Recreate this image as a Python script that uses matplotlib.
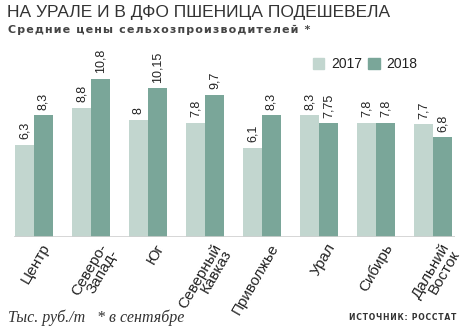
import numpy as np
import matplotlib
matplotlib.use('Agg')
import matplotlib.pyplot as plt
from matplotlib import font_manager

# Pick a narrow font if one is installed
names = {f.name for f in font_manager.fontManager.ttflist}
narrow = 'Liberation Sans Narrow' if 'Liberation Sans Narrow' in names else 'Liberation Sans'

# Data
regions = ['Центр', 'Северо-\nЗапад-', 'Юг', 'Северный\nКавказ', 'Приволжье',
           'Урал', 'Сибирь', 'Дальний\nВосток']
prices_2017 = [6.3, 8.8, 8.0, 7.8, 6.1, 8.3, 7.8, 7.7]
prices_2018 = [8.3, 10.8, 10.15, 9.7, 8.3, 7.75, 7.8, 6.8]
labels_2017 = ['6,3', '8,8', '8', '7,8', '6,1', '8,3', '7,8', '7,7']
labels_2018 = ['8,3', '10,8', '10,15', '9,7', '8,3', '7,75', '7,8', '6,8']
years = ['2017', '2018']

c17 = '#c2d6cf'
c18 = '#7aa699'

W, H = 467, 330
fig = plt.figure(figsize=(W / 100, H / 100), dpi=100)
ax = fig.add_axes([14 / W, 93 / H, 441 / W, 176 / H])

x = np.arange(len(regions))
bw = 0.333
ax.bar(x - bw / 2, prices_2017, width=bw, color=c17, linewidth=0)
ax.bar(x + bw / 2, prices_2018, width=bw, color=c18, linewidth=0)

ax.set_xlim(-0.351, 7.386)
ax.set_ylim(0, 12)
ax.axhline(0, color='#cfcfcf', linewidth=1.2)
for s in ax.spines.values():
    s.set_visible(False)
ax.set_yticks([])
ax.set_xticks([])

# value labels
for i in range(len(regions)):
    ax.annotate(labels_2017[i], (x[i] - bw / 2, prices_2017[i]), xytext=(0, 4),
                textcoords='offset points', rotation=90, ha='center', va='bottom',
                fontsize=9, family=narrow, color='#222222')
    ax.annotate(labels_2018[i], (x[i] + bw / 2, prices_2018[i]), xytext=(0, 4),
                textcoords='offset points', rotation=90, ha='center', va='bottom',
                fontsize=9, family=narrow, color='#222222')

# category labels
for i, r in enumerate(regions):
    ax.annotate(r, (x[i], 0), xytext=(5, -3), textcoords='offset points',
                rotation=60, rotation_mode='anchor', ha='right', va='top',
                fontsize=11, family=narrow, color='#222222', linespacing=0.85)

# legend
fig.patches.append(plt.Rectangle((313 / W, 1 - 69 / H), 11 / W, 11 / H,
                                 transform=fig.transFigure, color=c17))
fig.text(331 / W, 1 - 64 / H, years[0], fontsize=10, family=narrow, va='center', color='#222222')
fig.patches.append(plt.Rectangle((368 / W, 1 - 69 / H), 12 / W, 11 / H,
                                 transform=fig.transFigure, color=c18))
fig.text(386 / W, 1 - 64 / H, years[1], fontsize=10, family=narrow, va='center', color='#222222')

# titles
fig.text(7 / W, 1 - 12 / H, 'НА УРАЛЕ И В ДФО ПШЕНИЦА ПОДЕШЕВЕЛА', fontsize=12.5,
         family=narrow, va='center', color='#333333')
sub = 'Средние цены сельхозпроизводителей *'
fig.text(8 / W, 1 - 30 / H, '\u200a'.join(sub), fontsize=8, family='DejaVu Sans',
         fontweight='bold', va='center', color='#444444')

# footer
fig.text(8 / W, 1 - 318 / H, 'Тыс. руб./т', fontsize=11.5, family='Liberation Serif',
         style='italic', va='center', color='#333333')
fig.text(97 / W, 1 - 318 / H, '* в сентябре', fontsize=11.5, family='Liberation Serif',
         style='italic', va='center', color='#333333')
src = 'ИСТОЧНИК: РОССТАТ'
fig.text(456 / W, 1 - 318 / H, '\u200a'.join(src), fontsize=5.5, family='DejaVu Sans',
         fontweight='bold', ha='right', va='center', color='#333333')

fig.savefig('out.png', dpi=100)
